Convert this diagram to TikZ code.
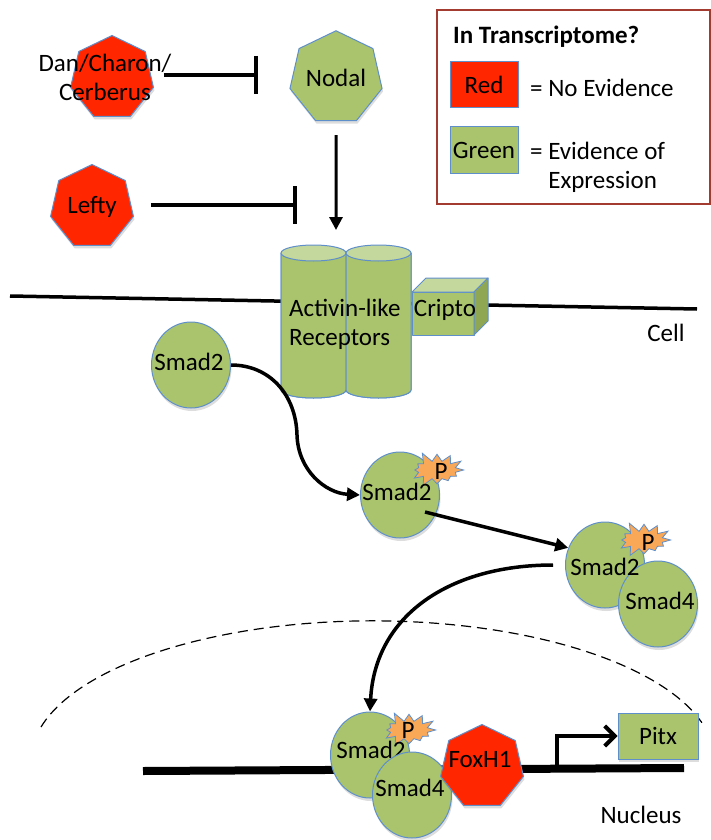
\documentclass[tikz,border=0pt]{standalone}
\usepackage{fontspec}
\setmainfont{Carlito}
\usetikzlibrary{shapes.geometric,shapes.symbols,arrows.meta,shadows}
\definecolor{fred}{HTML}{FF2600}
\definecolor{fgreen}{HTML}{A9C46C}
\definecolor{fgreenL}{HTML}{C4D79C}
\definecolor{fgreenD}{HTML}{8FA653}
\definecolor{fblue}{HTML}{5F8FCB}
\definecolor{forange}{HTML}{F9A857}
\definecolor{legred}{HTML}{A33B30}
\begin{document}
\begin{tikzpicture}[x=1pt,y=-1pt,font=\fontsize{25}{29}\selectfont,
  shad/.style={drop shadow={opacity=0.22,shadow xshift=1pt,shadow yshift=-3pt,fill=black!60}},
  hept/.style={regular polygon,regular polygon sides=7,minimum size=85pt,inner sep=0pt,draw=fblue,line width=1pt,shad},
  redhept/.style={hept,fill=fred},
  greenhept/.style={hept,fill=fgreen},
  prot/.style={ellipse,draw=fblue,line width=1pt,fill=fgreen,minimum width=79pt,minimum height=86pt,inner sep=0pt,shad},
  phos/.style={starburst,draw=fblue,fill=forange,line width=0.8pt,minimum width=60pt,minimum height=40pt,inner sep=0pt,starburst points=12,starburst point height=11pt,random starburst=5},
  inhib/.style={line width=3.2pt,-{Bar[width=38pt,line width=4pt]}},
  act/.style={line width=3.5pt,-{Triangle[length=13pt,width=13pt]}},
  lbl/.style={inner sep=0pt,align=center},
  solid3d/.style={fill=#1,draw=fblue,line width=1pt,line join=round},
]
\useasboundingbox (0,0) rectangle (711,840);

% membrane and DNA
\coordinate (memL) at (10,296);
\coordinate (memR) at (697,309);
\draw[line width=3.5pt] (memL) -- (memR);
\coordinate (dnaL) at (143,771);
\coordinate (dnaR) at (684,768);
\draw[line width=8pt] (dnaL) -- (dnaR);

% nuclear envelope
\draw[line width=1.2pt,dash pattern=on 10pt off 6pt] (41,727) arc[start angle=166,end angle=14,x radius=342pt,y radius=140pt];

% ligands and inhibitors
\node[redhept] (dan) at (112,78) {};
\node[lbl] (dantext) at (105,77) {Dan/Charon/\\Cerberus};
\node[greenhept] (nodal) at (336,78) {Nodal};
\node[redhept] (lefty) at (92,207) {Lefty};

\coordinate (danbar) at (258,75);
\coordinate (leftybar) at (297,205);
\coordinate (rectop) at (336,230);
\draw[inhib] ([xshift=12pt,yshift=3pt]dan.east) -- (danbar);
\draw[inhib] ([xshift=19pt,yshift=2pt]lefty.east) -- (leftybar);
\draw[act,line width=3pt] ([yshift=-14pt]nodal.south) -- (rectop);

% receptors (cylinders)
\begin{scope}[shad]
\filldraw[solid3d=fgreen] (281,253) -- (281,390) arc[start angle=180,end angle=360,x radius=32.5pt,y radius=8pt] -- (346,253) -- cycle;
\filldraw[solid3d=fgreen] (346,253) -- (346,390) arc[start angle=180,end angle=360,x radius=32.5pt,y radius=8pt] -- (411,253) -- cycle;
\end{scope}
\filldraw[solid3d=fgreen] (281,253) -- (281,390) arc[start angle=180,end angle=360,x radius=32.5pt,y radius=8pt] -- (346,253) -- cycle;
\filldraw[solid3d=fgreenL] (313.5,253) ellipse[x radius=32.5pt,y radius=8pt];
\filldraw[solid3d=fgreen] (346,253) -- (346,390) arc[start angle=180,end angle=360,x radius=32.5pt,y radius=8pt] -- (411,253) -- cycle;
\filldraw[solid3d=fgreenL] (378.5,253) ellipse[x radius=32.5pt,y radius=8pt];

% Cripto cube
\filldraw[solid3d=fgreen] (412,292) rectangle (474,335);
\filldraw[solid3d=fgreenL] (412,292) -- (426,278) -- (488,278) -- (474,292) -- cycle;
\filldraw[solid3d=fgreenD] (474,292) -- (488,278) -- (488,321) -- (474,335) -- cycle;

\node[lbl,align=left,anchor=west] (rectext) at (289,324) {Activin-like\\Receptors};
\node[lbl] (cripto) at (445,310) {Cripto};
\node[lbl] (cell) at (666,333) {Cell};

% Smad2 in cytoplasm
\node[prot] (s1) at (191,365) {};
\node[lbl] at (189,362) {Smad2};

% phosphorylated Smad2
\node[prot] (s2) at (400,495) {};
\node[phos] (p2) at (437,470) {};
\node[lbl] at (441,471) {P};
\node[lbl] at (397,492) {Smad2};

% complex
\node[prot] (c2) at (605,565) {};
\node[phos] (pc) at (644,540) {};
\node[lbl] at (648,542) {P};
\node[prot] (c4) at (658,604) {};
\node[lbl] at (605,567) {Smad2};
\node[lbl] at (660,601) {Smad4};

% nuclear complex
\node[prot] (b2) at (370,755) {};
\node[phos] (pb) at (409,730) {};
\node[lbl] at (408,730) {P};
\node[lbl] at (371,750) {Smad2};
\node[prot] (b4) at (412,795) {};
\node[lbl] at (410,788) {Smad4};
\node[redhept] (fox) at (482,767) {};
\node[lbl] at (480,760) {FoxH1};

% Pitx
\node[draw=fblue,line width=1pt,fill=fgreen,minimum width=80pt,minimum height=46pt,inner sep=0pt,shad] (pitx) at (658,736) {Pitx};
\coordinate (tss) at (557,771);
\draw[line width=4pt,line join=miter,-{Straight Barb[length=10pt,width=20pt,line width=4pt]}] (tss) -- (557,736) -- (pitx.west);

\node[lbl] (nucleus) at (641,815) {Nucleus};

% pathway arrows
\draw[act] (s1.east) .. controls (270,365) and (296,395) .. (297,435) .. controls (298,470) and (325,493) .. (s2.west);
\draw[act] ([shift={(25,17)}]s2.center) -- (c2.155);
\draw[act] ([xshift=-12pt]c2.west) .. controls (450,565) and (375,615) .. (b2.north);

% legend
\draw[legred,line width=1.5pt] (437,10) rectangle (710,204);
\node[lbl,anchor=west] (legtitle) at (453,37) {\textbf{In Transcriptome?}};
\node[draw=fblue,line width=1pt,fill=fred,minimum width=68pt,minimum height=46pt,inner sep=0pt] (legred) at (484,85) {Red};
\node[lbl,anchor=west] at (530,88) {= No Evidence};
\node[draw=fblue,line width=1pt,fill=fgreen,minimum width=68pt,minimum height=46pt,inner sep=0pt] (leggreen) at (484,150) {Green};
\node[lbl,anchor=west,align=left] at (530,167) {= Evidence of\\\phantom{= }Expression};
\end{tikzpicture}
\end{document}
